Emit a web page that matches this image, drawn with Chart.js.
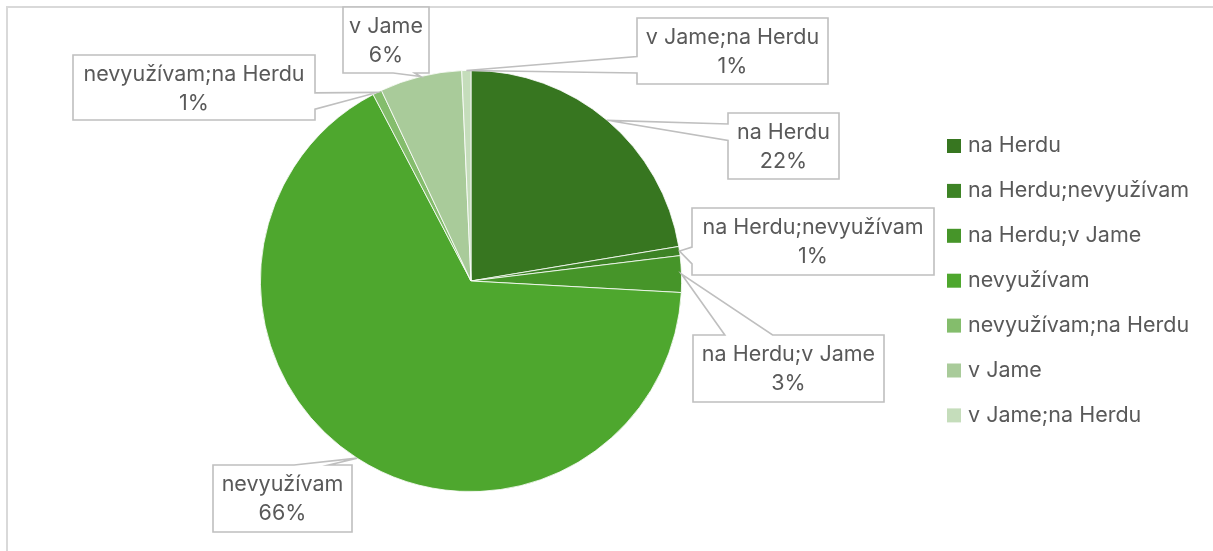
<!DOCTYPE html>
<html>
<head>
<meta charset="utf-8">
<script src="https://cdn.jsdelivr.net/npm/chart.js@4.4.1/dist/chart.umd.min.js"></script>
<style>
  html, body { margin: 0; padding: 0; background: #fff; }
  #wrap { width: 1213px; height: 551px; }
</style>
</head>
<body>
<div id="wrap"><canvas id="pieChart" width="1213" height="551"></canvas></div>
<script>
        const categories = ['na Herdu', 'na Herdu;nevyužívam', 'na Herdu;v Jame', 'nevyužívam', 'nevyužívam;na Herdu', 'v Jame', 'v Jame;na Herdu'];
        const counts = [32, 1, 4, 95, 1, 9, 1];
        const sliceColors = ['#377620', '#3D8325', '#469529', '#4EA72E', '#84BD6C', '#A9CB9A', '#C5DDBB'];

        // callout boxes, placed by hand like in the original workbook
        const calloutBoxes = [
            { x: 728, y: 113, w: 111, h: 66 },
            { x: 692, y: 208, w: 242, h: 67 },
            { x: 693, y: 335, w: 191, h: 67 },
            { x: 213, y: 465, w: 139, h: 67 },
            { x: 73, y: 55, w: 242, h: 65 },
            { x: 343, y: 7, w: 86, h: 66 },
            { x: 637, y: 18, w: 191, h: 66 }
        ];

        const textColor = '#595959';
        const fontFamily = "Inter, 'Liberation Sans', sans-serif";

        // pick a font size so the long label is as wide as in the picture
        const fitFontSize = (text, target) => {
            const c = document.createElement('canvas').getContext('2d');
            c.font = '20px ' + fontFamily;
            const w = c.measureText(text).width;
            return Math.round(20 * target / w * 10) / 10;
        };
        const labelFontSize = fitFontSize('na Herdu;nevyužívam', 221);

        const total = counts.reduce((a, b) => a + b, 0);

        const calloutPath = (ctx, b, ax, ay) => {
            const l = b.x, t = b.y, r = b.x + b.w, bt = b.y + b.h;
            const dxPos = ax - (l + b.w / 2);
            const dyPos = ay - (t + b.h / 2);
            const dz = Math.abs(dyPos) - Math.abs(dxPos * b.h / b.w);
            const x1 = l + b.w * (dxPos > 0 ? 7 : 2) / 12;
            const x2 = l + b.w * (dxPos > 0 ? 10 : 5) / 12;
            const y1 = t + b.h * (dyPos > 0 ? 7 : 2) / 12;
            const y2 = t + b.h * (dyPos > 0 ? 10 : 5) / 12;
            ctx.beginPath();
            ctx.moveTo(l, t);
            if (dz > 0 && dyPos < 0) { ctx.lineTo(x1, t); ctx.lineTo(ax, ay); ctx.lineTo(x2, t); }
            ctx.lineTo(r, t);
            if (dz <= 0 && dxPos > 0) { ctx.lineTo(r, y1); ctx.lineTo(ax, ay); ctx.lineTo(r, y2); }
            ctx.lineTo(r, bt);
            if (dz > 0 && dyPos > 0) { ctx.lineTo(x2, bt); ctx.lineTo(ax, ay); ctx.lineTo(x1, bt); }
            ctx.lineTo(l, bt);
            if (dz <= 0 && dxPos < 0) { ctx.lineTo(l, y2); ctx.lineTo(ax, ay); ctx.lineTo(l, y1); }
            ctx.closePath();
        };

        const frameAndLegend = {
            id: 'frameAndLegend',
            beforeDraw(chart) {
                const ctx = chart.ctx;
                ctx.save();
                ctx.fillStyle = '#fff';
                ctx.fillRect(0, 0, chart.width, chart.height);
                ctx.strokeStyle = '#d9d9d9';
                ctx.lineWidth = 2;
                ctx.strokeRect(7, 7, chart.width + 20, chart.height + 20);
                ctx.restore();
            },
            afterDatasetsDraw(chart) {
                const ctx = chart.ctx;
                const meta = chart.getDatasetMeta(0);
                ctx.save();
                ctx.font = labelFontSize + 'px ' + fontFamily;
                ctx.textAlign = 'center';
                ctx.textBaseline = 'middle';
                meta.data.forEach((arc, i) => {
                    const p = arc.getProps(['x', 'y', 'startAngle', 'endAngle', 'outerRadius'], true);
                    const mid = (p.startAngle + p.endAngle) / 2;
                    const ax = p.x + Math.cos(mid) * p.outerRadius;
                    const ay = p.y + Math.sin(mid) * p.outerRadius;
                    const b = calloutBoxes[i];
                    calloutPath(ctx, b, ax, ay);
                    ctx.fillStyle = '#fff';
                    ctx.fill();
                    ctx.strokeStyle = '#bfbfbf';
                    ctx.lineWidth = 1.6;
                    ctx.stroke();
                    const pct = Math.round(counts[i] / total * 100) + '%';
                    ctx.fillStyle = textColor;
                    ctx.fillText(categories[i], b.x + b.w / 2, b.y + 20);
                    ctx.fillText(pct, b.x + b.w / 2, b.y + 49);
                });

                // legend
                const legendX = 947, legendY = 146, step = 44.9;
                ctx.textAlign = 'left';
                categories.forEach((name, i) => {
                    const y = legendY + i * step;
                    ctx.fillStyle = sliceColors[i];
                    ctx.fillRect(legendX, y - 7, 14, 14);
                    ctx.fillStyle = textColor;
                    ctx.fillText(name, legendX + 21, y);
                });
                ctx.restore();
            }
        };

        const ctx = document.getElementById('pieChart').getContext('2d');
        new Chart(ctx, {
            type: 'pie',
            data: {
                labels: categories,
                datasets: [{
                    data: counts,
                    backgroundColor: sliceColors,
                    borderColor: '#ffffff',
                    borderWidth: 0.8
                }]
            },
            options: {
                responsive: false,
                animation: false,
                devicePixelRatio: 1,
                layout: {
                    padding: { left: 260, right: 531, top: 70, bottom: 59 }
                },
                plugins: {
                    legend: { display: false },
                    tooltip: { enabled: false }
                }
            },
            plugins: [frameAndLegend]
        });
</script>
</body>
</html>
